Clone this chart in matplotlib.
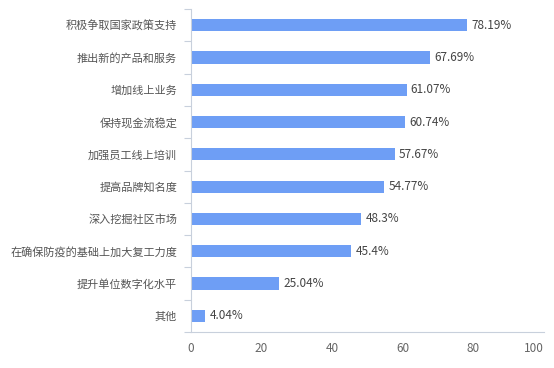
import matplotlib.pyplot as plt
import numpy as np

plt.rcParams['font.family'] = ['Noto Sans CJK SC', 'DejaVu Sans']

categories = ['积极争取国家政策支持', '推出新的产品和服务', '增加线上业务', '保持现金流稳定',
              '加强员工线上培训', '提高品牌知名度', '深入挖掘社区市场',
              '在确保防疫的基础上加大复工力度', '提升单位数字化水平', '其他']
values = [78.19, 67.69, 61.07, 60.74, 57.67, 54.77, 48.3, 45.4, 25.04, 4.04]
value_labels = ['78.19%', '67.69%', '61.07%', '60.74%', '57.67%', '54.77%',
                '48.3%', '45.4%', '25.04%', '4.04%']
xticks = [0, 20, 40, 60, 80, 100]

fig = plt.figure(figsize=(5.54, 3.68), dpi=100)
ax = fig.add_axes([191 / 554, 1 - 332 / 368, (544 - 191) / 554, (332 - 9) / 368])

y = np.arange(len(categories))[::-1]
ax.barh(y, values, height=0.38, color='#6e9ef5', zorder=2)

for yi, v, lab in zip(y, values, value_labels):
    ax.text(v + 1.2, yi, lab, va='center', ha='left', fontsize=8.5, color='#444444')

ax.set_xlim(0, 100)
ax.set_ylim(-0.5, len(categories) - 0.5)
ax.set_xticks(xticks)
ax.set_xticklabels([str(t) for t in xticks])
ax.tick_params(axis='x', length=0, pad=7, labelsize=8.5, labelcolor='#666666')
# last label kept inside the axis like the original
ax.get_xticklabels()[-1].set_horizontalalignment('right')

ax.set_yticks(y)
ax.set_yticklabels(categories)
ax.tick_params(axis='y', length=0, pad=10, labelsize=8, labelcolor='#555555')
# ticks at band boundaries
ax.set_yticks(np.arange(-0.5, len(categories), 1), minor=True)
ax.tick_params(axis='y', which='minor', length=5, color='#c8d0dc', width=0.8)

for s in ['top', 'right']:
    ax.spines[s].set_visible(False)
ax.spines['left'].set_color('#c8d0dc')
ax.spines['bottom'].set_color('#c8d0dc')
ax.spines['left'].set_linewidth(0.8)
ax.spines['bottom'].set_linewidth(0.8)

fig.savefig('out.png', dpi=100)
